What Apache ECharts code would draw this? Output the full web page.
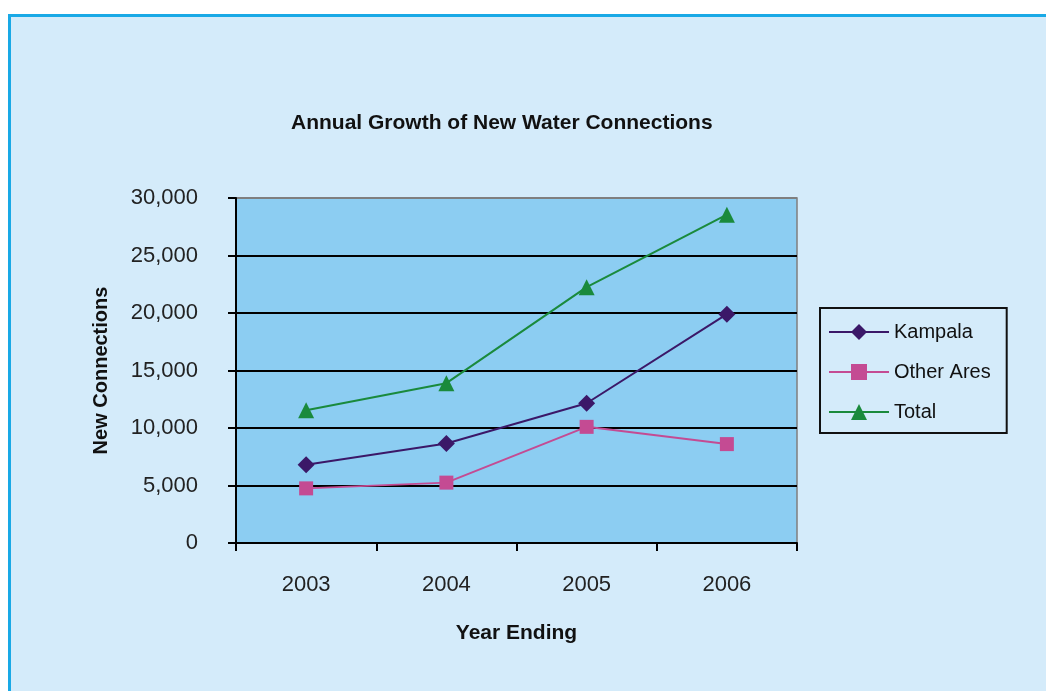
<!DOCTYPE html>
<html>
<head>
<meta charset="utf-8">
<title>Annual Growth of New Water Connections</title>
<script src="https://cdn.jsdelivr.net/npm/echarts@6/dist/echarts.min.js"></script>
<style>
  html, body {
    margin: 0;
    padding: 0;
    width: 1046px;
    height: 691px;
    overflow: hidden;
    background: #ffffff;
  }
  .frame {
    position: absolute;
    left: 8px;
    top: 14px;
    width: 1060px;
    height: 700px;
    background: #d4ebfa;
    border: 3px solid #19a9e6;
  }
  #chart {
    position: absolute;
    left: 0;
    top: 0;
    width: 1046px;
    height: 691px;
  }
</style>
</head>
<body>
<div class="frame"></div>
<div id="chart"></div>
<script>
  // data
  var years = ['2003', '2004', '2005', '2006'];
  var kampala = [6800, 8650, 12150, 19900];
  var otherAres = [4750, 5250, 10100, 8600];
  var total = [11550, 13900, 22250, 28550];

  var fontFamily = '"Liberation Sans", Arial, sans-serif';
  var colors = ['#3b1868', '#c44b93', '#1a8a3c'];

  var myChart = echarts.init(document.getElementById('chart'));

  var option = {
    backgroundColor: 'transparent',
    animation: false,
    color: colors,
    textStyle: { fontFamily: fontFamily },
    title: {
      text: 'Annual Growth of New Water Connections',
      left: 286,
      top: 108,
      textStyle: { fontSize: 21, fontWeight: 'bold', color: '#111', fontFamily: fontFamily }
    },
    legend: {
      orient: 'vertical',
      left: 820,
      top: 308,
      padding: [14, 16, 11, 8],
      itemGap: 20,
      itemWidth: 60,
      itemHeight: 20,
      backgroundColor: '#d4ebfa',
      borderColor: '#111',
      borderWidth: 2,
      borderRadius: 0,
      textStyle: { fontSize: 20, color: '#111', fontFamily: fontFamily, padding: [0, 0, 0, 0] },
      data: ['Kampala', 'Other Ares', 'Total']
    },
    grid: {
      left: 236,
      top: 198,
      width: 561,
      height: 345,
      show: true,
      backgroundColor: '#8ccdf2',
      borderColor: '#7f7f7f',
      borderWidth: 1.5,
      containLabel: false
    },
    xAxis: {
      type: 'category',
      data: years,
      boundaryGap: true,
      name: 'Year Ending',
      nameLocation: 'middle',
      nameGap: 80,
      nameTextStyle: { fontSize: 21, fontWeight: 'bold', color: '#111' },
      axisLine: { lineStyle: { color: '#000', width: 2 } },
      axisTick: { show: true, alignWithLabel: false, length: 8, lineStyle: { color: '#000', width: 2 } },
      axisLabel: { fontSize: 22, color: '#222', margin: 31 },
      splitLine: { show: false }
    },
    yAxis: {
      type: 'value',
      min: 0,
      max: 30000,
      interval: 5000,
      name: 'New Connections',
      nameLocation: 'middle',
      nameGap: 125,
      nameTextStyle: { fontSize: 20, fontWeight: 'bold', color: '#111' },
      axisLine: { show: true, lineStyle: { color: '#000', width: 2 } },
      axisTick: { show: true, length: 8, lineStyle: { color: '#000', width: 2 } },
      axisLabel: {
        fontSize: 22,
        color: '#222',
        margin: 38,
        formatter: function (v) {
          return v.toLocaleString('en-US');
        }
      },
      splitLine: {
        show: true,
        lineStyle: {
          color: ['#000', '#000', '#000', '#000', '#000', '#000', '#7f7f7f'],
          width: 2
        }
      }
    },
    series: [
      {
        name: 'Kampala',
        type: 'line',
        data: kampala,
        symbol: 'diamond',
        symbolSize: 17,
        lineStyle: { width: 2, color: colors[0] },
        itemStyle: { color: colors[0] }
      },
      {
        name: 'Other Ares',
        type: 'line',
        data: otherAres,
        symbol: 'rect',
        symbolSize: 14,
        lineStyle: { width: 2, color: colors[1] },
        itemStyle: { color: colors[1] }
      },
      {
        name: 'Total',
        type: 'line',
        data: total,
        symbol: 'triangle',
        symbolSize: 16,
        lineStyle: { width: 2, color: colors[2] },
        itemStyle: { color: colors[2] }
      }
    ]
  };

  myChart.setOption(option);
</script>
</body>
</html>
